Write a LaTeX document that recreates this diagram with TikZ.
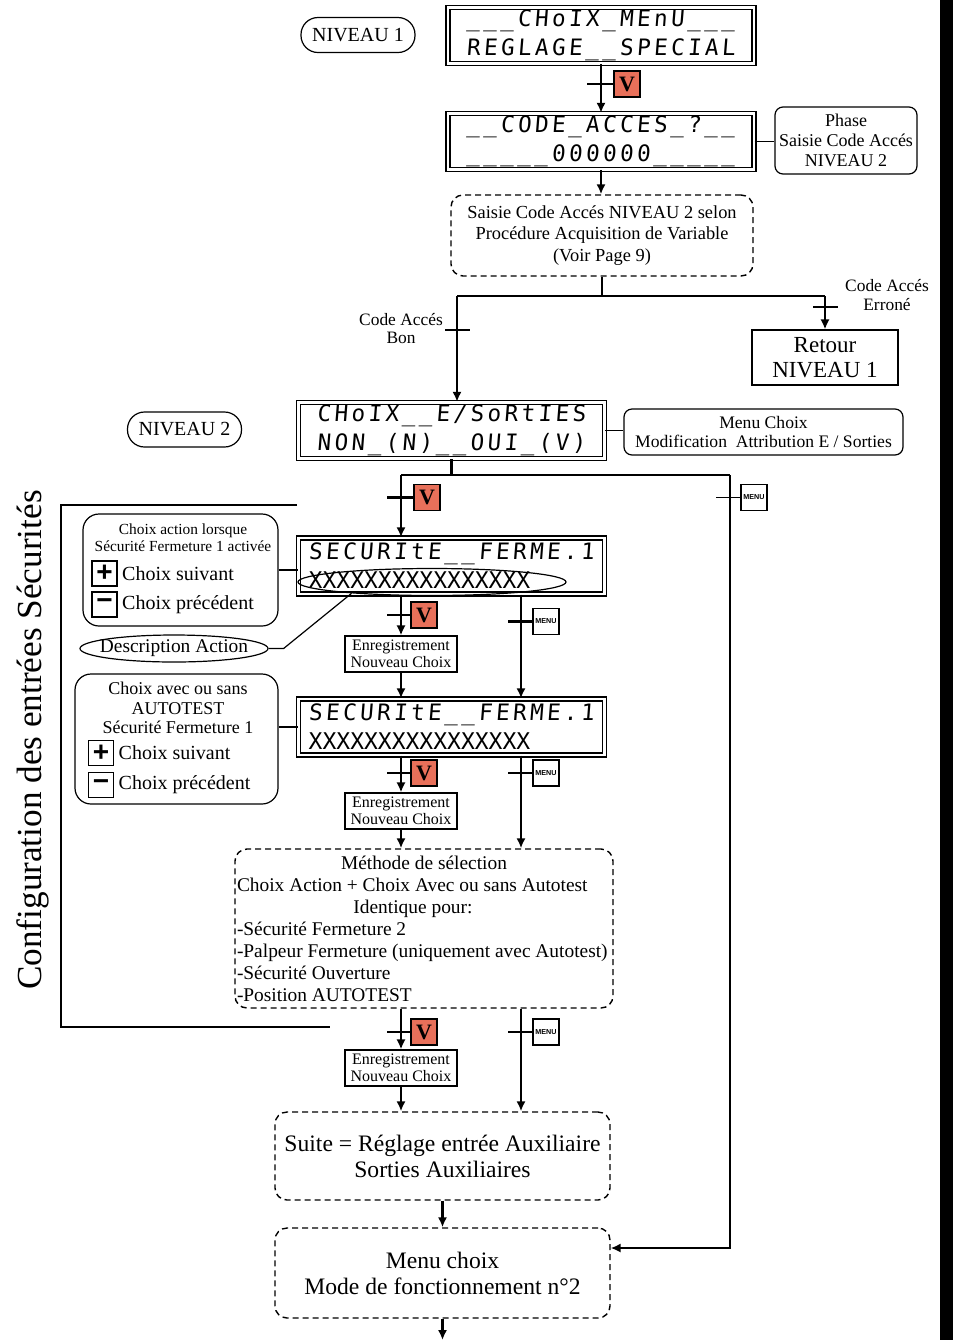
\documentclass[tikz,border=0pt]{standalone}
\usepackage{fontspec}
\setmainfont{Liberation Serif}
\setsansfont{Liberation Sans}
\newfontfamily\lcdfont[FakeSlant=0.08,LetterSpace=15]{DejaVu Sans Mono}
\newfontfamily\lcdxfont{DejaVu Sans Mono}
\usetikzlibrary{arrows, arrows.meta, positioning, shapes.geometric}
\definecolor{vred}{RGB}{232,112,90}

\begin{document}
\begin{tikzpicture}[x=0.5pt, y=-0.5pt, >={Latex[length=5pt,width=4.6pt]}, line width=0.6pt]
    \tikzstyle{lcd}=[draw, double, double distance=1.2pt, line width=0.7pt, minimum width=153pt, minimum height=28pt, inner sep=0.5pt, align=left, font=\lcdfont\fontsize{11.3}{14.5}\selectfont]
    \tikzstyle{pill}=[draw, rounded corners=8.5pt, minimum width=57pt, minimum height=17.5pt, inner sep=1pt, font=\fontsize{10}{12}\selectfont]
    \tikzstyle{rbox}=[draw, rounded corners=4pt, align=center, inner sep=1pt]
    \tikzstyle{dbox}=[draw, dash pattern=on 3pt off 2pt, line width=0.7pt, rounded corners=6pt, align=center, inner sep=1pt]
    \tikzstyle{sbox}=[draw, align=center, inner sep=1pt]
    \tikzstyle{reg}=[sbox, minimum width=56pt, minimum height=18pt, font=\fontsize{8}{8.5}\selectfont]
    \tikzstyle{vkey}=[draw, fill=vred, minimum size=13pt, inner sep=0pt, font=\bfseries\fontsize{11}{11}\selectfont]
    \tikzstyle{mkey}=[draw, fill=white, minimum size=13pt, inner sep=0pt, font=\sffamily\bfseries\fontsize{3.6}{4}\selectfont]
    \tikzstyle{pm}=[draw, minimum size=12.5pt, inner sep=0pt, font=\sffamily\bfseries\fontsize{14}{14}\selectfont]
    \tikzstyle{lbox}=[draw, rounded corners=8pt]
    \tikzstyle{txt}=[inner sep=1pt, align=center]
    \tikzstyle{conn}=[line width=1.1pt]

    \useasboundingbox (0,0) rectangle (953,1340);
    \fill (940,0) rectangle (953,1340);

    % niveau 1
    \node[pill]  (niv1)  at (358,35)     {NIVEAU 1};
    \node[lcd]   (d1)    at (601,35.5)   {\_\_\_CHoIX\_MEnU\_\_\_\\REGLAGE\_\_SPECIAL};
    \node[vkey]  (v0)    at (627,84)     {V};
    \node[lcd]   (d2)    at (601,141.5)  {\_\_CODE\_ACCES\_?\_\_\\\_\_\_\_\_000000\_\_\_\_\_};
    \node[rbox, minimum width=71pt, minimum height=33.5pt, font=\fontsize{9}{10}\selectfont]
                 (phase) at (846,140.5)  {Phase\\Saisie Code Accés\\NIVEAU 2};
    \node[dbox, minimum width=151pt, minimum height=40.5pt, font=\fontsize{9.2}{10.8}\selectfont]
                 (sel)   at (602,235.5)  {Saisie Code Accés NIVEAU 2 selon\\Procédure Acquisition de Variable\\(Voir Page 9)};
    \node[txt, font=\fontsize{8.7}{9}\selectfont]  (bonlbl) at (401,329) {Code Accés\\Bon};
    \node[txt, font=\fontsize{8.7}{9.5}\selectfont]  (errlbl) at (887,295) {Code Accés\\Erroné};
    \node[sbox, minimum width=73pt, minimum height=27.5pt, font=\fontsize{11.5}{12.5}\selectfont]
                 (retour) at (825,357.5) {Retour\\NIVEAU 1};

    % niveau 2
    \node[pill]  (niv2)  at (184.5,429.5) {NIVEAU 2};
    \node[lcd]   (d3)    at (451.5,430.5) {CHoIX\_\_E/SoRtIES\\NON\_(N)\_\_OUI\_(V)};
    \node[rbox, minimum width=139.5pt, minimum height=23pt, font=\fontsize{8.8}{9.5}\selectfont]
                 (menu)  at (763.5,432)   {Menu Choix\\Modification~~Attribution E / Sorties};
    \node[vkey]  (va)    at (427,497.5)   {V};
    \node[mkey]  (ma)    at (754,497.5)   {MENU};

    % securite fermeture 1
    \node[lcd]   (s1)    at (451.5,566)   {SECURItE\_\_FERME.1\\{\lcdxfont\fontsize{11.5}{14.5}\selectfont XXXXXXXXXXXXXXXX}};
    \node[draw, ellipse, minimum width=134pt, minimum height=13.5pt] (xx) at (432,582) {};
    \node[lbox, minimum width=97.5pt, minimum height=56pt] (act) at (180.5,570) {};
    \node[txt, font=\fontsize{7.7}{8.5}\selectfont] (acttit) at (183,538) {Choix action lorsque\\Sécurité Fermeture 1 activée};
    \node[pm]    (plus1) at (104.5,573.5) {+};
    \node[pm]    (moins1) at (104.5,604.5) {−};
    \node[anchor=west, inner sep=2pt, font=\fontsize{10}{12}\selectfont] (plus1t)  at (plus1.east)  {Choix suivant};
    \node[anchor=west, inner sep=2pt, font=\fontsize{10}{12}\selectfont] (moins1t) at (moins1.east) {Choix précédent};
    \node[draw, ellipse, minimum width=94pt, minimum height=13.5pt, inner xsep=-4pt, inner ysep=0.5pt, font=\fontsize{9.7}{11}\selectfont]
                 (desc)  at (174,648.5)   {Description Action};

    \node[vkey]  (v1)    at (424,615)     {V};
    \node[mkey]  (m1)    at (546,621.5)   {MENU};
    \node[reg]   (e1)    at (401,654)     {Enregistrement\\Nouveau Choix};

    % autotest
    \node[lcd]   (s2)    at (451.5,727)   {SECURItE\_\_FERME.1\\{\lcdxfont\fontsize{11.5}{14.5}\selectfont XXXXXXXXXXXXXXXX}};
    \node[lbox, minimum width=101.5pt, minimum height=65pt] (avec) at (176.5,739) {};
    \node[txt, font=\fontsize{9}{9.6}\selectfont] (avectit) at (178,708) {Choix avec ou sans\\AUTOTEST\\Sécurité Fermeture 1};
    \node[pm]    (plus2) at (101,753)     {+};
    \node[pm]    (moins2) at (101,785)    {−};
    \node[anchor=west, inner sep=2pt, font=\fontsize{10}{12}\selectfont] (plus2t)  at (plus2.east)  {Choix suivant};
    \node[anchor=west, inner sep=2pt, font=\fontsize{10}{12}\selectfont] (moins2t) at (moins2.east) {Choix précédent};

    \node[vkey]  (v2)    at (424,773)     {V};
    \node[mkey]  (m2)    at (546,773)     {MENU};
    \node[reg]   (e2)    at (401,811)     {Enregistrement\\Nouveau Choix};

    \node[dbox, minimum width=189pt, minimum height=79.5pt, text width=187pt, align=flush left, font=\fontsize{9.7}{11}\selectfont]
                 (meth)  at (424,928.5)   {\makebox[187pt]{Méthode de sélection}\\
                                           Choix Action + Choix Avec ou sans Autotest\\
                                           \makebox[176pt]{Identique pour:}\\
                                           -Sécurité Fermeture 2\\
                                           -Palpeur Fermeture (uniquement avec Autotest)\\
                                           -Sécurité Ouverture\\
                                           -Position AUTOTEST};
    \node[vkey]  (v3)    at (424,1032)    {V};
    \node[mkey]  (m3)    at (546,1032)    {MENU};
    \node[reg]   (e3)    at (401,1068)    {Enregistrement\\Nouveau Choix};

    \node[dbox, minimum width=167.5pt, minimum height=44pt, font=\fontsize{11.8}{13}\selectfont]
                 (suite) at (442.5,1156)  {Suite = Réglage entrée Auxiliaire\\Sorties Auxiliaires};
    \node[dbox, minimum width=167.5pt, minimum height=45pt, font=\fontsize{11.8}{13}\selectfont]
                 (mode)  at (442.5,1273)  {Menu choix\\Mode de fonctionnement n°2};
    \coordinate (fin) at (442.5,1340);

    \node[rotate=90, inner sep=0pt, font=\fontsize{17.6}{20}\selectfont] (cfg) at (33,740) {Configuration des entrées Sécurités};
    \draw (297,505) -| (61,1027) -- (330,1027);

    % connecteurs
    \coordinate (bon) at (457,296);
    \coordinate (err) at (825,296);
    \coordinate (jl)  at (401,475);
    \coordinate (jr)  at (730,475);
    \coordinate (rc)  at (521,0);

    \draw[conn,->] (d1) -- (d2);
    \draw[conn] (v0.west) -- ++(-26,0);
    \draw (d2.east) -- (d2.east -| phase.west);
    \draw[conn,->] (d2.south) -- (d2.south |- sel.north);
    \draw[conn] (sel.south) -- (sel.south |- bon);
    \draw[conn] (bon) -- (err);
    \draw[conn,->] (bon) -- (bon |- d3.north);
    \draw[conn,->] (err) -- (retour.north);
    \draw[conn] (445,330) -- (470,330);
    \draw[conn] (813,307) -- (838,307);

    \draw (d3.east) -- (d3.east -| menu.west);
    \draw[conn] (d3.south) -- (d3.south |- jl);
    \draw[conn] (jl) -- (jr);
    \draw[conn,->] (jl) -- (jl |- s1.north);
    \draw[conn] (va.west) -- ++(-26,0);
    \draw[line width=0.9pt,->] (jr) |- ([yshift=12.5pt]mode.east);
    \draw[line width=0.9pt] (ma.west) -- ++(-24,0);

    \draw (act.east) -- (act.east -| s1.west);
    \draw (desc.east) -- ++(15,0) -- (xx.188);
    \draw[conn,->] (s1.south -| e1) -- (e1.north);
    \draw[conn] (v1.west) -- ++(-23,0);
    \draw[conn,->] (e1.south) -- (e1.south |- s2.north);
    \draw[conn,->] (s1.south -| rc) -- (s2.north -| rc);
    \draw[conn] (m1.west) -- ++(-24,0);

    \draw (s2.west) -- (s2.west -| avec.east);
    \draw[conn,->] (s2.south -| e2) -- (e2.north);
    \draw[conn] (v2.west) -- ++(-23,0);
    \draw[conn,->] (e2.south) -- (e2.south |- meth.north);
    \draw[conn,->] (s2.south -| rc) -- (meth.north -| rc);
    \draw[conn] (m2.west) -- ++(-24,0);

    \draw[conn,->] (meth.south -| e3) -- (e3.north);
    \draw[conn] (v3.west) -- ++(-23,0);
    \draw[conn,->] (e3.south) -- (e3.south |- suite.north);
    \draw[conn,->] (meth.south -| rc) -- (suite.north -| rc);
    \draw[conn] (m3.west) -- ++(-24,0);

    \draw[conn,->] (suite) -- (mode);
    \draw[conn,->] (mode) -- (fin);
\end{tikzpicture}
\end{document}
